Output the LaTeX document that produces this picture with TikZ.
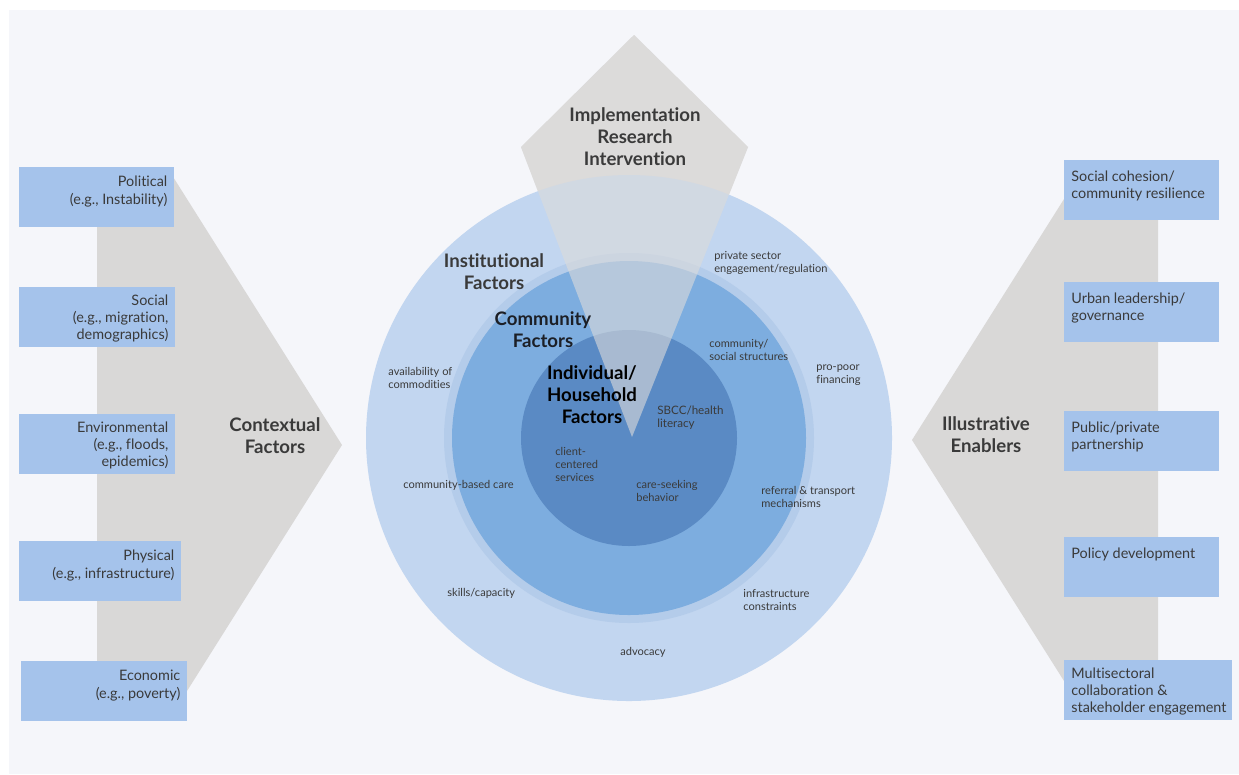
\documentclass[tikz,border=0pt]{standalone}
\usepackage{fontspec}
\setmainfont{Lato}[Ligatures=NoCommon]
\definecolor{bgpage}{HTML}{F5F6FA}
\definecolor{boxblue}{HTML}{A5C3EB}
\definecolor{chevgray}{HTML}{D9D8D7}
\definecolor{kitegray}{HTML}{DCDBDA}
\definecolor{ringout}{HTML}{C2D6F0}
\definecolor{ringmid}{HTML}{B4CCEA}
\definecolor{commblue}{HTML}{7DADDF}
\definecolor{indblue}{HTML}{5A8AC4}
\definecolor{txtdark}{HTML}{3A3A3A}
\definecolor{txtblack}{HTML}{1C1F26}

\begin{document}
\begin{tikzpicture}[x=0.2mm,y=-0.2mm,
	every node/.style={text=txtdark,inner sep=0pt},
	fbox/.style={rectangle,fill=boxblue,anchor=north west,minimum height=12mm},
	ltext/.style={anchor=north east,align=right,font=\fontsize{8.2}{9.9}\selectfont},
	rtext/.style={anchor=north west,align=left,font=\fontsize{8.2}{9.9}\selectfont},
	head/.style={align=center,font=\bfseries\fontsize{10.6}{12.5}\selectfont},
	small/.style={anchor=west,align=left,font=\fontsize{6.3}{7.4}\selectfont}]
		\fill[white] (0,0) rectangle (1239,774);
		\fill[bgpage] (9,10) rectangle (1239,774);
		\useasboundingbox (0,0) rectangle (1239,774);
		
		\fill[chevgray] (97,172)--(170,172)--(342,445)--(170,718)--(97,718)--cycle;
		\fill[chevgray] (1158,180)--(1076,180)--(912,440)--(1076,700)--(1158,700)--cycle;
		
		\node[fbox,minimum width=31mm] (pol) at (19,167) {};
		\node[fbox,minimum width=31.2mm] (soc) at (19,287) {};
		\node[fbox,minimum width=31.2mm] (env) at (19,414) {};
		\node[fbox,minimum width=32.4mm] (phy) at (19,541) {};
		\node[fbox,minimum width=33.2mm] (eco) at (21,661) {};
		\node[ltext] (poltxt) at ([xshift=-4pt,yshift=-5pt]pol.north east) {Political\\(e.g., Instability)};
		\node[ltext] (soctxt) at ([xshift=-4pt,yshift=-4pt]soc.north east) {Social\\(e.g., migration,\\demographics)};
		\node[ltext] (envtxt) at ([xshift=-4pt,yshift=-4pt]env.north east) {Environmental\\(e.g., floods,\\epidemics)};
		\node[ltext] (phytxt) at ([xshift=-4pt,yshift=-5pt]phy.north east) {Physical\\(e.g., infrastructure)};
		\node[ltext] (ecotxt) at ([xshift=-4pt,yshift=-5pt]eco.north east) {Economic\\(e.g., poverty)};
		
		\node[fbox,minimum width=31mm] (coh) at (1064,160) {};
		\node[fbox,minimum width=31mm] (urb) at (1064,282) {};
		\node[fbox,minimum width=31mm] (ppp) at (1064,411) {};
		\node[fbox,minimum width=31mm] (pold) at (1064,537) {};
		\node[fbox,minimum width=33.6mm] (mult) at (1064,660) {};
		\node[rtext] (cohtxt) at ([xshift=4pt,yshift=-6pt]coh.north west) {Social cohesion/\\community resilience};
		\node[rtext] (urbtxt) at ([xshift=4pt,yshift=-6pt]urb.north west) {Urban leadership/\\governance};
		\node[rtext] (ppptxt) at ([xshift=4pt,yshift=-6pt]ppp.north west) {Public/private\\partnership};
		\node[rtext] (poldtxt) at ([xshift=4pt,yshift=-6pt]pold.north west) {Policy development};
		\node[rtext] (multtxt) at ([xshift=4pt,yshift=-4pt]mult.north west) {Multisectoral\\collaboration \&\\stakeholder engagement};
		
		\fill[kitegray] (634,35)--(748,147)--(632,437)--(521,147)--cycle;
		\fill[ringout] (629,438) circle[radius=263];
		\fill[ringmid] (629,438) circle[radius=185];
		\fill[commblue] (629,438) circle[radius=177];
		\fill[indblue] (629,438) circle[radius=108];
		\fill[kitegray,fill opacity=0.6] (634,35)--(748,147)--(632,437)--(521,147)--cycle;
		
		\node[head] (irint) at (635,137) {Implementation\\Research\\Intervention};
		\node[head] (inst) at (494,272) {Institutional\\Factors};
		\node[head,text=txtblack] (comm) at (543,330) {Community\\Factors};
		\node[head,text=black] (indiv) at (592,395) {Individual/\\Household\\Factors};
		\node[head] (ctx) at (275,436) {Contextual\\Factors};
		\node[head] (enab) at (986,435) {Illustrative\\Enablers};
		
		\node[small] (priv) at (714,263) {private sector\\engagement/regulation};
		\node[small] (cstr) at (709,350) {community/\\social structures};
		\node[small] (poor) at (816,375) {pro-poor\\financing};
		\node[small] (avail) at (388,378) {availability of\\commodities};
		\node[small,font=\fontsize{6.6}{7.6}\selectfont] (sbcc) at (657,418) {SBCC/health\\literacy};
		\node[small] (client) at (555,464) {client-\\centered\\services};
		\node[small] (care) at (636,491) {care-seeking\\behavior};
		\node[small] (cbc) at (403,485) {community-based care};
		\node[small] (refer) at (761,497) {referral \& transport\\mechanisms};
		\node[small] (skill) at (447,593) {skills/capacity};
		\node[small] (infra) at (743,600) {infrastructure\\constraints};
		\node[small,anchor=center] (advo) at (643,652) {advocacy};
	\end{tikzpicture}
\end{document}
